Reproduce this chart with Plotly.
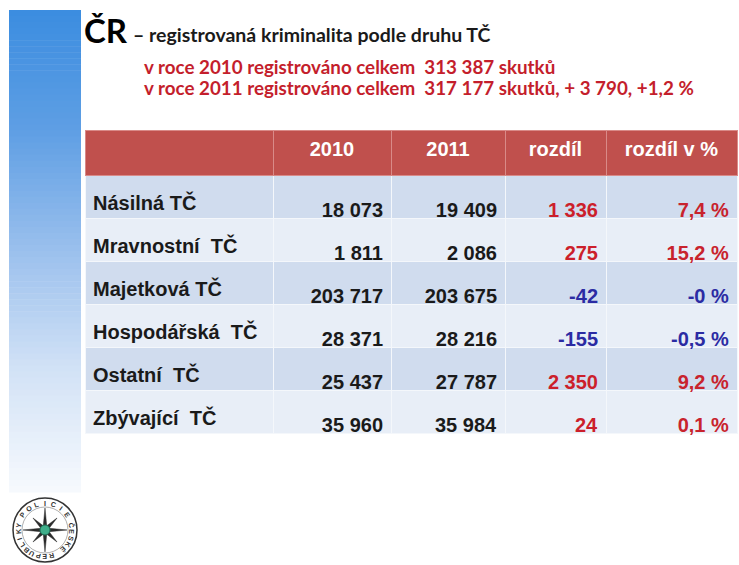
import math
import plotly.graph_objects as go

W, H = 739, 565

# ---------------- data ----------------
categories = ["Násilná TČ", "Mravnostní  TČ", "Majetková TČ", "Hospodářská  TČ", "Ostatní  TČ", "Zbývající  TČ"]
values_2010 = [18073, 1811, 203717, 28371, 25437, 35960]
values_2011 = [19409, 2086, 203675, 28216, 27787, 35984]
diff_values = [1336, 275, -42, -155, 2350, 24]
pct_labels = ["7,4 %", "15,2 %", "-0 %", "-0,5 %", "9,2 %", "0,1 %"]
pct_sign = [1, 1, -1, -1, 1, 1]
header_labels = ["", "2010", "2011", "rozdíl", "rozdíl v %"]

title_main = "ČR"
title_sub = "– registrovaná kriminalita podle druhu TČ"
note_lines = ["v roce 2010 registrováno celkem  313 387 skutků",
              "v roce 2011 registrováno celkem  317 177 skutků, + 3 790, +1,2 %"]
logo_top_text = "POLICIE"
logo_bottom_text = "ČESKÉ REPUBLIKY"

# ---------------- helpers ----------------
def px(x):
    return x / W

def py(y):
    return 1 - y / H

def fmt(n):
    s = f"{abs(n):,}".replace(",", " ")
    return ("-" if n < 0 else "") + s

def hex2rgb(h):
    h = h.lstrip("#")
    return tuple(int(h[i:i + 2], 16) for i in (0, 2, 4))

def lerp_color(stops, t):
    for (t0, c0), (t1, c1) in zip(stops, stops[1:]):
        if t0 <= t <= t1:
            f = (t - t0) / (t1 - t0) if t1 > t0 else 0
            a, b = hex2rgb(c0), hex2rgb(c1)
            return "rgb(%d,%d,%d)" % tuple(round(a[i] + (b[i] - a[i]) * f) for i in range(3))
    return stops[-1][1]

RED = "#cc1f2b"
BLUE = "#2b2ba3"
BAND_DARK = "#d0dcee"
BAND_LIGHT = "#e8eef7"
HEADER_RED = "#c0504d"
CLEAR = "rgba(0,0,0,0)"
FONT = "Arial, Liberation Sans, sans-serif"
TITLE_FONT = "Lato, Open Sans, sans-serif"

n = len(categories)
row_fill = [BAND_DARK if i % 2 == 0 else BAND_LIGHT for i in range(n)]
diff_colors = [RED if d > 0 else BLUE for d in diff_values]
pct_colors = ["#c8232d" if s > 0 else BLUE for s in pct_sign]

# table geometry (pixels)
TOP = 130
HEADER_H = 45
ROW_H = 43
col_px = [188, 118, 114, 101, 131]
X0 = 85
edges = [X0]
for w in col_px:
    edges.append(edges[-1] + w)
BOTTOM = 480

fig = go.Figure()

# background table: header text + banded fills
fig.add_trace(go.Table(
    domain=dict(x=[px(edges[0]), px(edges[-1])], y=[py(BOTTOM), py(TOP)]),
    columnwidth=col_px,
    header=dict(
        values=["<b>" + h + "</b>" for h in header_labels],
        fill_color=HEADER_RED,
        line=dict(color="#d98a88", width=1),
        align="center",
        height=HEADER_H,
        font=dict(family=FONT, size=20, color="white"),
    ),
    cells=dict(
        values=[[""] * n for _ in range(5)],
        fill_color=[row_fill] * 5,
        line=dict(color="#f4f7fb", width=1),
        height=ROW_H,
        font=dict(family=FONT, size=20),
    ),
))

# label column text (slightly lower than cell top, as in the slide)
fig.add_trace(go.Table(
    domain=dict(x=[px(edges[0]), px(edges[1])], y=[py(BOTTOM), py(TOP)]),
    header=dict(values=[""], fill_color=CLEAR, line=dict(color=CLEAR, width=0), height=HEADER_H + 8),
    cells=dict(
        values=[["<b>" + c + "</b>" for c in categories]],
        fill_color=CLEAR, line=dict(color=CLEAR, width=0),
        align="left", height=ROW_H,
        font=dict(family=FONT, size=20, color="#1a1a1a"),
    ),
))

# numeric columns text (sits lower in the rows)
fig.add_trace(go.Table(
    domain=dict(x=[px(edges[1]), px(edges[-1])], y=[py(BOTTOM), py(TOP)]),
    columnwidth=col_px[1:],
    header=dict(values=[""] * 4, fill_color=CLEAR, line=dict(color=CLEAR, width=0), height=HEADER_H + 16),
    cells=dict(
        values=[
            ["<b>" + fmt(v) + "</b>" for v in values_2010],
            ["<b>" + fmt(v) + "</b>" for v in values_2011],
            ["<b>" + fmt(v) + "</b>" for v in diff_values],
            ["<b>" + p + "</b>" for p in pct_labels],
        ],
        fill_color=CLEAR, line=dict(color=CLEAR, width=0),
        align="right", height=ROW_H,
        font=dict(family=FONT, size=20,
                  color=[["#1a1a1a"] * n, ["#1a1a1a"] * n, diff_colors, pct_colors]),
    ),
))

# ---------------- decorative left bar (gradient) ----------------
shapes = []
stops = [(0.0, "#3c8de0"), (0.25, "#5f9fe4"), (0.5, "#9bc0ed"), (0.75, "#d2e2f6"), (1.0, "#f6f9fd")]
top, bottom, steps = 10, 492, 80
for i in range(steps):
    y0 = top + (bottom - top) * i / steps
    y1 = top + (bottom - top) * (i + 1) / steps + 0.6
    shapes.append(dict(type="rect", xref="paper", yref="paper",
                       x0=px(9), x1=px(81), y0=py(y1), y1=py(y0),
                       fillcolor=lerp_color(stops, i / (steps - 1)), line=dict(width=0), layer="below"))

# ---------------- logo (compass star in circle) ----------------
cx, cy, r = 45, 530, 32
shapes.append(dict(type="circle", xref="paper", yref="paper",
                   x0=px(cx - r), x1=px(cx + r), y0=py(cy + r), y1=py(cy - r),
                   line=dict(color="#333333", width=1.5), fillcolor="white"))
shapes.append(dict(type="circle", xref="paper", yref="paper",
                   x0=px(cx - r + 9), x1=px(cx + r - 9), y0=py(cy + r - 9), y1=py(cy - r + 9),
                   line=dict(color="#777777", width=0.6)))
pts = []
for k in range(16):
    ang = math.pi / 2 - k * math.pi / 8
    if k % 4 == 0:
        rad = 22
    elif k % 2 == 0:
        rad = 17
    else:
        rad = 4.5
    pts.append((cx + rad * math.cos(ang), cy - rad * math.sin(ang)))
path = "M " + " L ".join(f"{px(x):.5f},{py(y):.5f}" for x, y in pts) + " Z"
shapes.append(dict(type="path", xref="paper", yref="paper", path=path,
                   fillcolor="#2b2b2b", line=dict(color="#2b2b2b", width=0.5)))
shapes.append(dict(type="circle", xref="paper", yref="paper",
                   x0=px(cx - 5), x1=px(cx + 5), y0=py(cy + 5), y1=py(cy - 5),
                   fillcolor="#3fae8a", line=dict(color="#1f6e55", width=1)))

annotations = []
# ring lettering
ring_r = r - 5
def ring_letters(text, a_start, a_end):
    m = len(text)
    for j, ch in enumerate(text):
        if ch == " ":
            continue
        a = a_start + (a_end - a_start) * (j / (m - 1) if m > 1 else 0)
        th = math.radians(a)
        annotations.append(dict(text="<b>" + ch + "</b>", x=px(cx + ring_r * math.cos(th)),
                                y=py(cy - ring_r * math.sin(th)), xref="paper", yref="paper",
                                showarrow=False, textangle=90 - a, xanchor="center", yanchor="middle",
                                font=dict(family=FONT, size=7, color="#333333")))
ring_letters(logo_top_text, 145, 35)
ring_letters(logo_bottom_text, 10, -190)

# ---------------- titles ----------------
annotations += [
    dict(text="<b>" + title_main + "</b>", x=px(82), y=py(30), xref="paper", yref="paper",
         xanchor="left", yanchor="middle", showarrow=False,
         font=dict(family=TITLE_FONT, size=33, color="black")),
    dict(text="<b>" + title_sub + "</b>", x=px(131), y=py(35), xref="paper", yref="paper",
         xanchor="left", yanchor="middle", showarrow=False,
         font=dict(family=TITLE_FONT, size=19.5, color="#1a1a1a")),
]
for i, line in enumerate(note_lines):
    annotations.append(dict(text="<b>" + line + "</b>", x=px(142), y=py(67 + 20 * i), xref="paper", yref="paper",
                            xanchor="left", yanchor="middle", showarrow=False,
                            font=dict(family=TITLE_FONT, size=18.8, color="#c41e2c")))

fig.update_layout(
    width=W, height=H,
    margin=dict(l=0, r=0, t=0, b=0),
    paper_bgcolor="white", plot_bgcolor="white",
    shapes=shapes, annotations=annotations,
    showlegend=False,
)

fig.write_html("out.html", config={"displayModeBar": False},
               post_script="document.body.style.margin='0';")
